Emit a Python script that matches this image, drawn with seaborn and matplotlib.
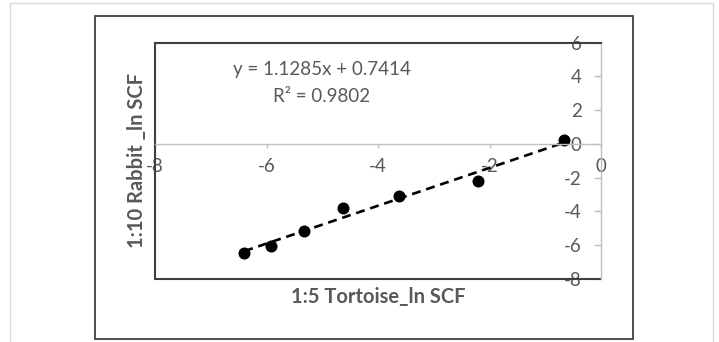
import matplotlib.pyplot as plt
import seaborn as sns
import pandas as pd
from matplotlib.patches import Rectangle

# dados
tortoise = [-6.40, -5.92, -5.33, -4.63, -3.62, -2.21, -0.67]
rabbit = [-6.49, -6.05, -5.15, -3.79, -3.06, -2.17, 0.20]
x_ticks = [-8, -6, -4, -2, 0]
y_ticks = [-8, -6, -4, -2, 0, 2, 4, 6]
equation = 'y = 1.1285x + 0.7414'
r2_text = 'R² = 0.9802'

df = pd.DataFrame({'tortoise': tortoise, 'rabbit': rabbit})

sns.set_style('white')
plt.rcParams['font.family'] = ['Lato', 'DejaVu Sans']
plt.rcParams['axes.unicode_minus'] = False

grey_txt = '#595959'
dark = '#404040'
axis_grey = '#bfbfbf'

fig = plt.figure(figsize=(7.19, 3.42), dpi=100)

# molduras externas
fig.patches.append(Rectangle((0.0139, -0.02), 0.9778, 1.011, transform=fig.transFigure,
                             fill=False, edgecolor='#d9d9d9', lw=1))
fig.patches.append(Rectangle((0.1321, 0.0088), 0.7483, 0.9444, transform=fig.transFigure,
                             fill=False, edgecolor=dark, lw=1.3))

ax = fig.add_axes([0.2156, 0.1842, 0.6203, 0.6915])

sns.regplot(x='tortoise', y='rabbit', data=df, ci=None, truncate=True, ax=ax,
            scatter_kws={'color': 'black', 's': 75, 'alpha': 1, 'linewidths': 0},
            line_kws={'color': 'black', 'lw': 1.9, 'dashes': (3.4, 2.2)})

ax.set_xlim(-8, 0)
ax.set_ylim(-8, 6)
ax.set_xticks(x_ticks)
ax.set_yticks(y_ticks)

# eixos cruzando no zero
ax.spines['bottom'].set_position(('data', 0))
ax.spines['left'].set_position(('data', 0))
for s in ['bottom', 'left']:
    ax.spines[s].set_color(axis_grey)
    ax.spines[s].set_linewidth(1)
ax.spines['right'].set_visible(False)
ax.spines['top'].set_color(dark)
ax.spines['top'].set_linewidth(1.5)
ax.axvline(-8, color=dark, lw=1.5, clip_on=False)
ax.axhline(-8, color=dark, lw=1.5, clip_on=False)

ax.tick_params(axis='x', direction='out', length=3, width=1, color=axis_grey,
               labelcolor=grey_txt, labelsize=13.5, pad=7, bottom=True)
ax.tick_params(axis='y', direction='out', length=5, width=1, color=axis_grey,
               labelcolor=grey_txt, labelsize=13.5, pad=9, left=True)

ax.set_xlabel('')
ax.set_ylabel('')
fig.text(0.5258, 0.132, '1:5 Tortoise_ln SCF', ha='center', va='center',
         fontsize=14.5, fontweight='bold', color=grey_txt)
fig.text(0.1905, 0.53, '1:10 Rabbit _ln SCF', ha='center', va='center', rotation=90,
         fontsize=14.5, fontweight='bold', color=grey_txt)

ax.text(0.374, 0.884, equation, transform=ax.transAxes, ha='center', va='center',
        fontsize=13.5, color=grey_txt)
ax.text(0.374, 0.771, r2_text, transform=ax.transAxes, ha='center', va='center',
        fontsize=13.5, color=grey_txt)

plt.savefig('out.png', dpi=100)
